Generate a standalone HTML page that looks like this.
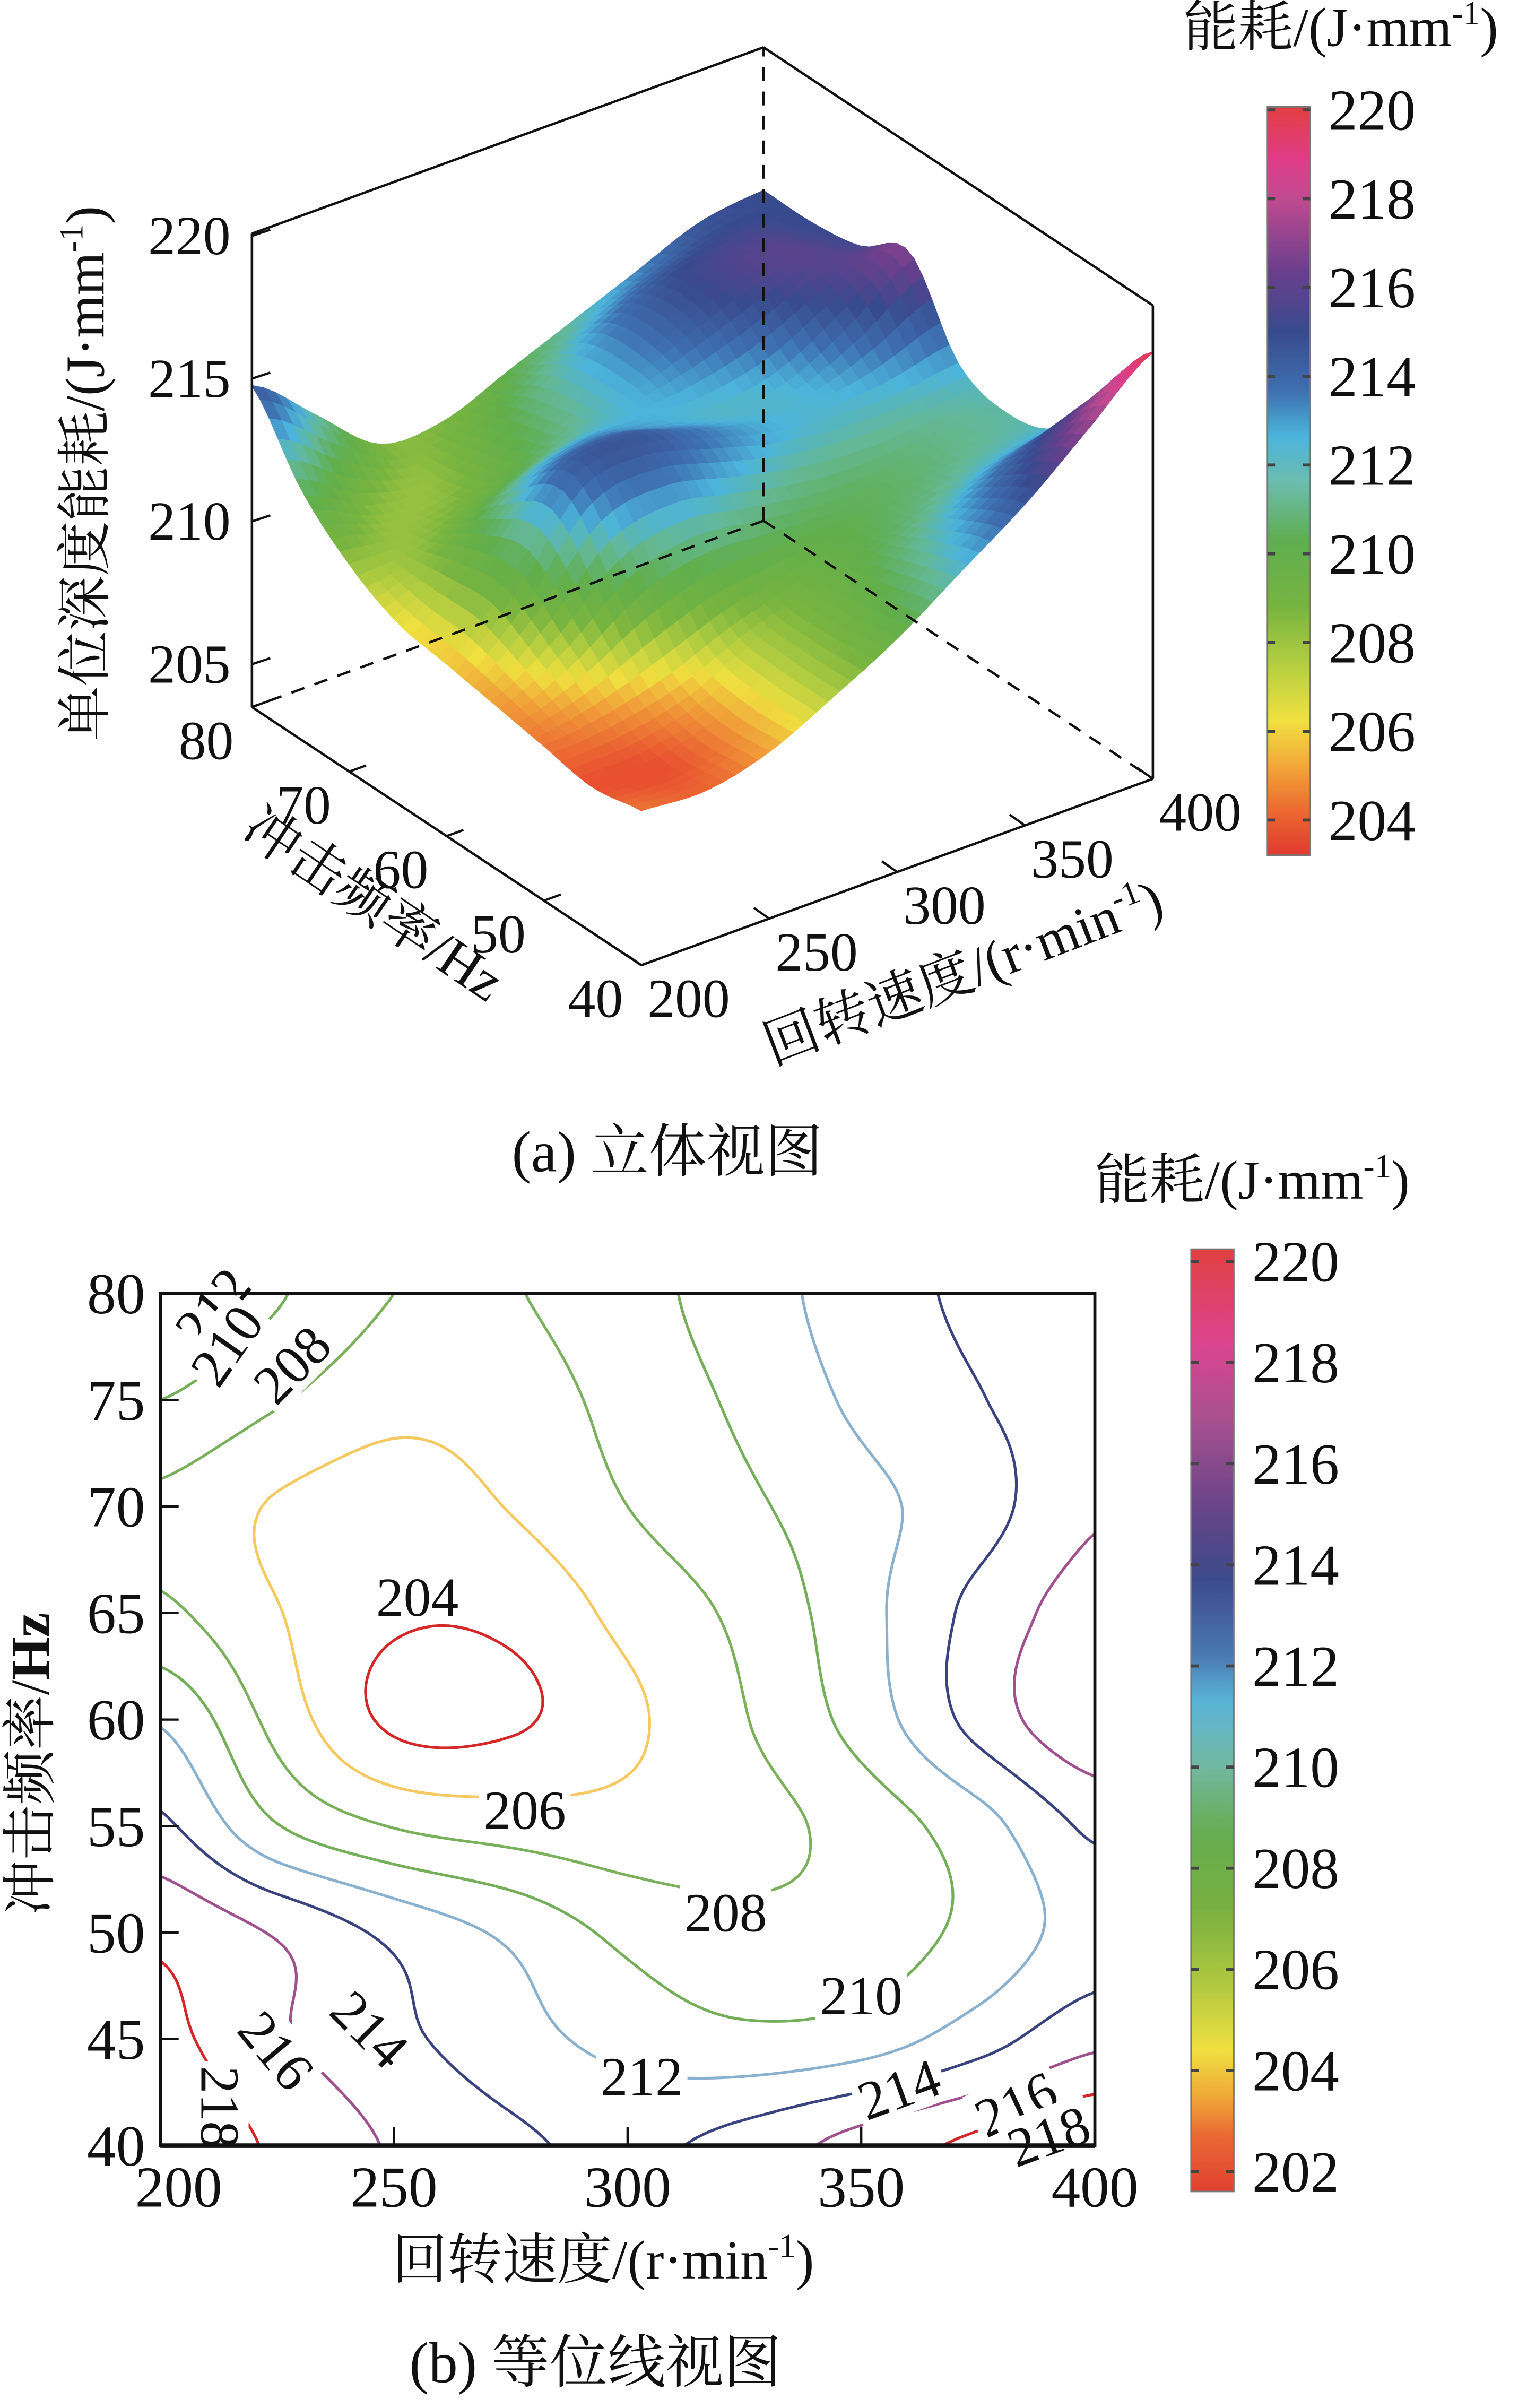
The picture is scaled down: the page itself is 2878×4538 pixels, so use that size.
<!DOCTYPE html>
<html><head><meta charset="utf-8">
<style>
html,body{margin:0;padding:0;background:#fff;}
svg{display:block;}
text{font-family:"Liberation Serif","Noto Serif CJK SC","Noto Sans CJK SC",serif;fill:#111;}
</style></head>
<body>
<svg id="fig" xmlns="http://www.w3.org/2000/svg" width="2878" height="4538" viewBox="0 0 1000 1576.8" preserveAspectRatio="none">
<defs>
<linearGradient id="cbA" x1="0" y1="1" x2="0" y2="0">
<stop offset="0" stop-color="#e03a30"/><stop offset="0.06" stop-color="#ec6a30"/><stop offset="0.12" stop-color="#f2a838"/><stop offset="0.18" stop-color="#f0e040"/><stop offset="0.25" stop-color="#b8d040"/><stop offset="0.33" stop-color="#78b440"/><stop offset="0.42" stop-color="#5fae50"/><stop offset="0.5" stop-color="#6cbcb0"/><stop offset="0.56" stop-color="#4cb4dc"/><stop offset="0.62" stop-color="#3e70b0"/><stop offset="0.7" stop-color="#384a8e"/><stop offset="0.78" stop-color="#6a3f8c"/><stop offset="0.88" stop-color="#c24a90"/><stop offset="0.93" stop-color="#e03c88"/><stop offset="1" stop-color="#e23e40"/>
</linearGradient>
<linearGradient id="cbB" x1="0" y1="1" x2="0" y2="0">
<stop offset="0" stop-color="#e04030"/><stop offset="0.06" stop-color="#ea6a34"/><stop offset="0.1" stop-color="#f0a838"/><stop offset="0.15" stop-color="#f0e040"/><stop offset="0.22" stop-color="#b0c840"/><stop offset="0.3" stop-color="#78b040"/><stop offset="0.38" stop-color="#66ac50"/><stop offset="0.45" stop-color="#72b8a0"/><stop offset="0.52" stop-color="#5ab4d8"/><stop offset="0.57" stop-color="#4a78b0"/><stop offset="0.65" stop-color="#3c4a8a"/><stop offset="0.73" stop-color="#6a4488"/><stop offset="0.82" stop-color="#a85090"/><stop offset="0.9" stop-color="#dc4490"/><stop offset="1" stop-color="#e04040"/>
</linearGradient>
</defs>

<g id="surf"></g>
<g id="box"></g>

<text transform="translate(68,310) rotate(-90)" font-size="36" text-anchor="middle">单位深度能耗/(J·mm<tspan font-size="22" dy="-14">-1</tspan><tspan dy="14">)</tspan></text>
<text transform="translate(238,602) rotate(34)" font-size="36" text-anchor="middle">冲击频率/Hz</text>
<text transform="translate(635,648) rotate(-21)" font-size="36" text-anchor="middle">回转速度/(r·min<tspan font-size="22" dy="-14">-1</tspan><tspan dy="14">)</tspan></text>

<rect x="830" y="70" width="28" height="490" fill="url(#cbA)" stroke="#777" stroke-width="1"/>
<text x="878" y="30" font-size="36" text-anchor="middle">能耗/(J·mm<tspan font-size="22" dy="-14">-1</tspan><tspan dy="14">)</tspan></text>
<g id="cbaTicks"></g>

<text x="437" y="767" font-size="38" text-anchor="middle">(a)  立体视图</text>

<g id="contours"></g>
<rect x="105" y="847" width="612" height="558" fill="none" stroke="#111" stroke-width="2"/>
<line x1="105" y1="1405" x2="717" y2="1405" stroke="#111" stroke-width="3"/>
<g id="cAxes"></g>
<text transform="translate(32,1155) rotate(-90)" font-size="36" text-anchor="middle">冲击频率/<tspan font-weight="bold">Hz</tspan></text>
<text x="395" y="1492" font-size="36" text-anchor="middle">回转速度/(r·min<tspan font-size="22" dy="-14">-1</tspan><tspan dy="14">)</tspan></text>

<rect x="780" y="818" width="28" height="617" fill="url(#cbB)" stroke="#777" stroke-width="1"/>
<text x="820" y="785" font-size="36" text-anchor="middle">能耗/(J·mm<tspan font-size="22" dy="-14">-1</tspan><tspan dy="14">)</tspan></text>
<g id="cbbTicks"></g>

<text x="390" y="1560" font-size="38" text-anchor="middle">(b)  等位线视图</text>
</svg>

<script>
const NS='http://www.w3.org/2000/svg';
// ---------- data ----------
const speeds=[200,225,250,275,300,325,350,375,400];
const freqs=[40,45,50,55,60,65,70,75,80];
// contour grid: rows = freqs (40..80), cols = speeds
const zContour=[
[219.5,217.7,215.8,214.4,213.6,214.8,216.8,218.5,220],
[218.5,216.3,214.5,212.8,211.3,210.5,211,213.1,215.5],
[217.6,215.8,213.5,211.6,209.5,208.6,208.9,210.6,212.9],
[214.4,210.1,207.9,207.1,206.8,207.3,208.8,211.2,214.4],
[211.8,207.3,203.6,203.7,205.6,207.9,210.8,214.7,217.6],
[208.4,206.1,204.3,204.5,206.6,208.5,211.3,214.6,217],
[207.6,205.8,205,206.1,208,209.6,211.4,213.2,215.7],
[210,208.2,206.6,207,208.7,210.4,212.4,213.9,215],
[212,210.2,208,207.9,209.3,211,213,214.4,215]
];
// 3D surface grid: rows = freqs (40..80), cols = speeds
const zSurface=[
[204.5,204.3,205.2,207,209,211.5,214,217,220],
[204,204,205,207,208.5,210.5,212.5,214.5,216],
[204.5,205,206,207.5,208.5,209.5,210.5,211.5,212],
[205,207,210,211,210.5,210,210,210.5,211],
[205.5,209,213.5,214,213,212,211.5,211.5,212],
[206,208.5,211.5,212.5,212,211.5,212,214,216.5],
[207.5,207.5,208.5,210,211.5,213,214.5,215.5,215],
[210,208,207.5,209,211,213,214.5,215,214.5],
[214,211,208,208,209.5,211,212.5,214,214.5]
];
const contourLevels=[204,206,208,210,212,214,216,218];
const contourColors=['#d42828','#f5c860','#7ab05a','#74ae58','#8ab0d0','#3a4280','#a0508f','#d42828'];
const zTicks3d=[205,210,215,220];
const freqTicks=[40,50,60,70,80];
const speedTicks=[200,250,300,350,400];
const cbATicks=[204,206,208,210,212,214,216,218,220];
const cbBTicks=[202,204,206,208,210,212,214,216,218,220];
const yTicksB=[40,45,50,55,60,65,70,75,80];
const xTicksB=[200,250,300,350,400];
const cLabelText=['212','210','208','204','206','208','210','212','214','216','218','214','216','218'];
const cLabelSpeed=[211,214,228,255,278,321,350,303,245,225,213,358,383,390];
const cLabelFreq=[79.4,77.6,76.7,65.8,55.8,51,47.1,43.3,45.5,44.5,41.8,42.7,42,40.5];
const cLabelRot=[-50,-55,-45,0,0,0,0,0,45,50,90,-20,-25,-20];

// ---------- helpers ----------
function mk(tag,attrs,parent){const e=document.createElementNS(NS,tag);for(const k in attrs)e.setAttribute(k,attrs[k]);parent.appendChild(e);return e;}
function cr(p0,p1,p2,p3,t){return 0.5*(2*p1+(-p0+p2)*t+(2*p0-5*p1+4*p2-p3)*t*t+(-p0+3*p1-3*p2+p3)*t*t*t);}
function sampleGrid(g,fi,fj){
  const R=g.length,C=g[0].length;
  const cl=(v,n)=>Math.max(0,Math.min(n-1,v));
  let i=Math.min(Math.floor(fi),R-2), j=Math.min(Math.floor(fj),C-2);
  const ti=fi-i, tj=fj-j;
  const row=r=>{r=cl(r,R);const a=g[r];return cr(a[cl(j-1,C)],a[j],a[j+1],a[cl(j+2,C)],tj);};
  return cr(row(i-1),row(i),row(i+1),row(i+2),ti);
}
const stops=[[202,[224,64,48]],[204,[232,80,48]],[205,[240,150,56]],[206,[240,224,64]],[207,[176,204,64]],[208,[120,180,64]],[209.5,[96,174,76]],[210.8,[100,184,150]],[211.8,[76,180,220]],[213,[62,112,176]],[214.5,[56,74,142]],[216,[106,63,140]],[218,[194,74,144]],[219,[224,60,136]],[220,[226,62,64]]];
function cmap(z){
  if(z<=stops[0][0])return 'rgb('+stops[0][1]+')';
  for(let k=0;k<stops.length-1;k++){const a=stops[k],b=stops[k+1];
    if(z<=b[0]){const t=(z-a[0])/(b[0]-a[0]);const c=a[1].map((v,q)=>Math.round(v+(b[1][q]-v)*t));return 'rgb('+c.join(',')+')';}}
  return 'rgb('+stops[stops.length-1][1]+')';
}

// ---------- 3D projection ----------
const F={x:420,y:632}, U={x:335,y:-122}, V={x:-255,y:-169};
const BOX_ZS=18.7, BOX_Z0=203.5;
const SURF_ZS=11.5, SURF_Z0=195.7;
function base(u,v){return [F.x+u*U.x+v*V.x, F.y+u*U.y+v*V.y];}
function projS(u,v,z){const b=base(u,v);return [b[0], b[1]-(Math.min(z,220.5)-SURF_Z0)*SURF_ZS];}
function uOf(s){return (s-200)/200;} function vOf(f){return (f-40)/40;}
(function(){
  const g=document.getElementById('surf');
  const N=44, pts=[];
  for(let a=0;a<=N;a++){pts[a]=[];for(let b=0;b<=N;b++){
    const fj=a/N*(speeds.length-1), fi=b/N*(freqs.length-1);
    const z=sampleGrid(zSurface,fi,fj);
    pts[a][b]={z:z,p:projS(a/N,b/N,z)};}}
  const cells=[];
  for(let a=0;a<N;a++)for(let b=0;b<N;b++)cells.push([a,b]);
  cells.sort((c1,c2)=>(c2[0]+c2[1])-(c1[0]+c1[1]));
  cells.forEach(([a,b])=>{
    const q=[pts[a][b],pts[a+1][b],pts[a+1][b+1],pts[a][b+1]];
    const z=(q[0].z+q[1].z+q[2].z+q[3].z)/4;const col=cmap(z);
    const e=mk('polygon',{points:q.map(o=>o.p[0].toFixed(1)+','+o.p[1].toFixed(1)).join(' '),fill:col,stroke:col,'stroke-width':0.7},g);
    
    
  });
})();

// ---------- 3D box & ticks ----------
(function(){
  const g=document.getElementById('box');
  const H=310;
  const L=(x1,y1,x2,y2,dash,name)=>{const e=mk('line',{x1,y1,x2,y2,stroke:'#111','stroke-width':1.6},g);if(dash)e.setAttribute('stroke-dasharray','9,7');
    
    };
  const f0=base(0,0),r0=base(1,0),l0=base(0,1),b0=base(1,1);
  L(l0[0],l0[1],l0[0],l0[1]-H,0,'box-left-edge');
  L(r0[0],r0[1],r0[0],r0[1]-H,0,'box-right-edge');
  L(l0[0],l0[1]-H,b0[0],b0[1]-H,0,'box-top-left-edge');
  L(b0[0],b0[1]-H,r0[0],r0[1]-H,0,'box-top-right-edge');
  L(f0[0],f0[1],l0[0],l0[1],0,'freq-axis-line');
  L(f0[0],f0[1],r0[0],r0[1],0,'speed-axis-line');
  L(b0[0],b0[1],b0[0],b0[1]-H,1,'box-back-edge');
  L(b0[0],b0[1],l0[0],l0[1],1,'box-back-left-floor');
  L(b0[0],b0[1],r0[0],r0[1],1,'box-back-right-floor');
  zTicks3d.forEach(z=>{const y=l0[1]-(z-BOX_Z0)*BOX_ZS;
    const t=mk('line',{x1:l0[0],y1:y,x2:l0[0]+12,y2:y-4,stroke:'#111','stroke-width':1.5},g);
    
    
    const tx=mk('text',{x:l0[0]-14,y:y+12,'font-size':36,'text-anchor':'end'},g);tx.textContent=z;
    
    });
  freqTicks.forEach(f=>{const p=base(0,vOf(f));
    const t=mk('line',{x1:p[0],y1:p[1],x2:p[0]+11,y2:p[1]-4,stroke:'#111','stroke-width':1.5},g);
    
    
    const tx=mk('text',{x:p[0]-12,y:p[1]+34,'font-size':36,'text-anchor':'end'},g);tx.textContent=f;
    
    });
  speedTicks.forEach(s=>{const p=base(uOf(s),0);
    const t=mk('line',{x1:p[0],y1:p[1],x2:p[0]-10,y2:p[1]-7,stroke:'#111','stroke-width':1.5},g);
    
    
    const tx=mk('text',{x:p[0]+4,y:p[1]+34,'font-size':36,'text-anchor':'start'},g);tx.textContent=s;
    
    });
})();

// ---------- colorbars ----------
function cbTicks(id,vals,x0,w,yTop,yBot,vTop,vBot){
  const g=document.getElementById(id);
  vals.forEach(v=>{const y=yTop+(vTop-v)/(vTop-vBot)*(yBot-yTop);
    const a=mk('line',{x1:x0,y1:y,x2:x0+5,y2:y,stroke:'#444','stroke-width':2},g);
    
    
    const b=mk('line',{x1:x0+w-5,y1:y,x2:x0+w,y2:y,stroke:'#444','stroke-width':2},g);
    
    
    const t=mk('text',{x:x0+w+12,y:y+13,'font-size':38},g);t.textContent=v;
    
    });
}
cbTicks('cbaTicks',cbATicks,830,28,72,537,220,204);
cbTicks('cbbTicks',cbBTicks,780,28,826,1422,220,202);

// ---------- contour plot ----------
const PX0=105,PX1=717,PY0=1405,PY1=847;
function xS(s){return PX0+(s-200)/200*(PX1-PX0);}
function yF(f){return PY0-(f-40)/40*(PY0-PY1);}
(function(){
  const g=document.getElementById('contours');
  const NX=120,NY=120,val=[];
  for(let i=0;i<=NY;i++){val[i]=[];for(let j=0;j<=NX;j++)val[i][j]=sampleGrid(zContour,i/NY*(freqs.length-1),j/NX*(speeds.length-1));}
  const P=(i,j)=>[xS(200+j/NX*200),yF(40+i/NY*40)];
  contourLevels.forEach((L,k)=>{
    let d='';
    for(let i=0;i<NY;i++)for(let j=0;j<NX;j++){
      const c=[[i,j],[i,j+1],[i+1,j+1],[i+1,j]];
      const pts=[];
      for(let e=0;e<4;e++){const A=c[e],B=c[(e+1)%4];const va=val[A[0]][A[1]],vb=val[B[0]][B[1]];
        if((va<L)!==(vb<L)){const t=(L-va)/(vb-va);const pa=P(A[0],A[1]),pb=P(B[0],B[1]);pts.push([pa[0]+(pb[0]-pa[0])*t,pa[1]+(pb[1]-pa[1])*t]);}}
      for(let q=0;q+1<pts.length;q+=2)d+='M'+pts[q][0].toFixed(2)+' '+pts[q][1].toFixed(2)+'L'+pts[q+1][0].toFixed(2)+' '+pts[q+1][1].toFixed(2);
    }
    const p=mk('path',{d:d,fill:'none',stroke:contourColors[k],'stroke-width':1.8,'stroke-linecap':'round'},g);
    
    
  });
  cLabelText.forEach((t,n)=>{const x=xS(cLabelSpeed[n]),y=yF(cLabelFreq[n]);
    const gg=mk('g',{transform:'translate('+x+','+y+') rotate('+cLabelRot[n]+')'},g);
    
    
    mk('rect',{x:-30,y:-18,width:60,height:36,fill:'#fff'},gg);
    const tx=mk('text',{x:0,y:13,'font-size':36,'text-anchor':'middle'},gg);tx.textContent=t;
  });
  const ax=document.getElementById('cAxes');
  yTicksB.forEach(f=>{const y=yF(f);
    const l=mk('line',{x1:PX0,y1:y,x2:PX0+12,y2:y,stroke:'#111','stroke-width':1.5},ax);
    
    
    const t=mk('text',{x:PX0-10,y:y+13,'font-size':38,'text-anchor':'end'},ax);t.textContent=f;
    
    });
  xTicksB.forEach(s=>{const x=xS(s);
    const l=mk('line',{x1:x,y1:PY0,x2:x,y2:PY0-12,stroke:'#111','stroke-width':1.5},ax);
    
    
    const t=mk('text',{x:x+(s===200?12:0),y:PY0+40,'font-size':38,'text-anchor':'middle'},ax);t.textContent=s;
    
    });
})();
</script>
</body></html>
